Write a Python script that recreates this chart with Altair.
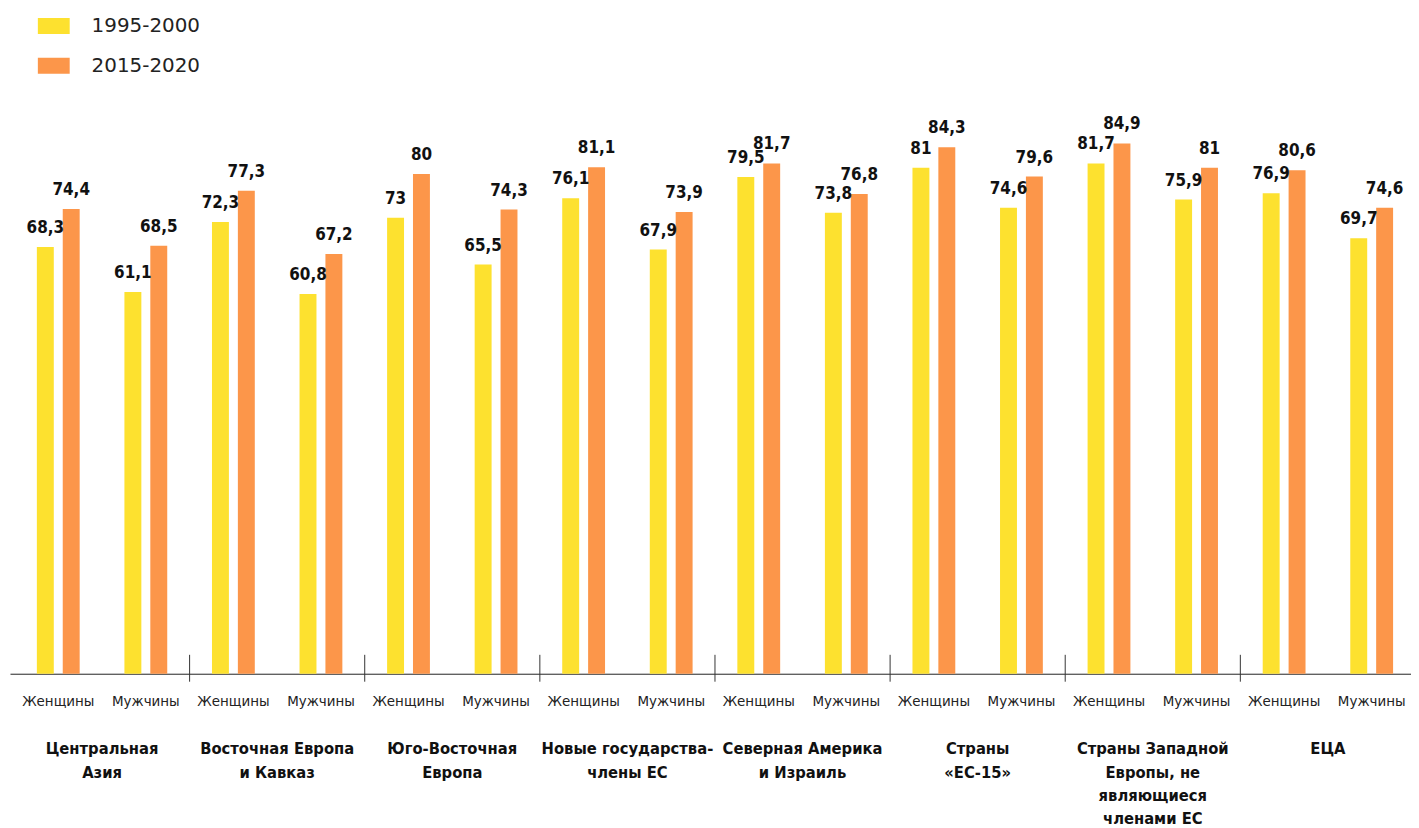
import altair as alt
import pandas as pd

groups = [
    "Центральная Азия", "Восточная Европа и Кавказ", "Юго-Восточная Европа",
    "Новые государства-члены ЕС", "Северная Америка и Израиль", "Страны «ЕС-15»",
    "Страны Западной Европы, не являющиеся членами ЕС", "ЕЦА",
]
group_lines = [
    ["Центральная", "Азия"],
    ["Восточная Европа", "и Кавказ"],
    ["Юго-Восточная", "Европа"],
    ["Новые государства-", "члены ЕС"],
    ["Северная Америка", "и Израиль"],
    ["Страны", "«ЕС-15»"],
    ["Страны Западной", "Европы, не", "являющиеся", "членами ЕС"],
    ["ЕЦА"],
]
sexes = ["Женщины", "Мужчины"]
periods = ["1995-2000", "2015-2020"]
women_1995 = [68.3, 72.3, 73, 76.1, 79.5, 81, 81.7, 76.9]
women_2015 = [74.4, 77.3, 80, 81.1, 81.7, 84.3, 84.9, 80.6]
men_1995 = [61.1, 60.8, 65.5, 67.9, 73.8, 74.6, 75.9, 69.7]
men_2015 = [68.5, 67.2, 74.3, 73.9, 76.8, 79.6, 81, 74.6]
colors = ["#FDE12F", "#FC964A"]

keys = [f"{gi}|{s}" for gi in range(len(groups)) for s in sexes]

rows = []
for gi in range(len(groups)):
    for s, vals in (("Женщины", (women_1995, women_2015)), ("Мужчины", (men_1995, men_2015))):
        for p, arr in zip(periods, vals):
            v = arr[gi]
            rows.append({
                "key": f"{gi}|{s}", "period": p, "value": v,
                "label": (f"{v:g}").replace(".", ","),
            })
df = pd.DataFrame(rows)

sep_df = pd.DataFrame({"key": [f"{gi}|Мужчины" for gi in range(len(groups) - 1)]})
grp_df = pd.DataFrame({"key": [f"{gi}|Женщины" for gi in range(len(groups))],
                       "lines": group_lines})

W, H = 1408, 565
STEP = 88
COND = "'DejaVu Sans Condensed', 'Liberation Sans Narrow', 'Roboto Condensed', sans-serif"
LIGHT = "'DejaVu Sans', 'Noto Sans', sans-serif"

xscale = alt.Scale(domain=keys, paddingInner=0.511, paddingOuter=0.2557, align=0.6)
xenc = alt.X("key:N", scale=xscale, sort=keys,
             axis=alt.Axis(title=None, labelExpr="split(datum.label, '|')[1]",
                           ticks=False, domainColor="#222222", domainWidth=1,
                           labelAngle=0, labelPadding=21, labelFont=LIGHT,
                           labelFontSize=13.5, labelColor="#222222",
                           labelFontWeight="normal"))
xoff = alt.XOffset("period:N", sort=periods,
                   scale=alt.Scale(paddingInner=0.346, paddingOuter=0))
yenc = alt.Y("value:Q", scale=alt.Scale(domain=[0, 90]), axis=None)

bars = alt.Chart(df).mark_bar().encode(
    x=xenc, xOffset=xoff, y=yenc,
    color=alt.Color("period:N", scale=alt.Scale(domain=periods, range=colors),
                    legend=alt.Legend(orient="none", legendX=28, legendY=-102,
                                      title=None,
                                      symbolType="M-1,-0.5H1V0.5H-1Z",
                                      symbolSize=1024, symbolStrokeWidth=0,
                                      symbolOpacity=1,
                                      labelFontSize=20, labelFont=LIGHT,
                                      labelFontWeight="normal",
                                      labelColor="#222222", labelOffset=22,
                                      rowPadding=14, padding=0)),
)

values = alt.Chart(df).mark_text(
    dy=-10, baseline="bottom", font=COND, fontWeight="bold", fontSize=17,
    color="#111111",
).encode(x=xenc, xOffset=xoff, y=yenc, text="label:N")

seps = alt.Chart(sep_df).mark_rule(color="#333333", strokeWidth=1, xOffset=STEP / 2).encode(
    x=alt.X("key:N", scale=xscale, sort=keys),
    y=alt.value(H - 19), y2=alt.value(H + 8),
)

glabels = alt.Chart(grp_df).mark_text(
    xOffset=STEP / 2, baseline="top", align="center", font=COND,
    fontWeight="bold", fontSize=16.5, lineHeight=23.5, color="#111111",
).encode(
    x=alt.X("key:N", scale=xscale, sort=keys),
    y=alt.value(H + 68),
    text="lines",
)

chart = alt.layer(bars, values, seps, glabels).properties(
    width=W, height=H,
    padding={"left": 2, "top": 0, "right": 0, "bottom": 0},
).configure_view(stroke=None)

chart.save("out.html", embed_options={"renderer": "svg", "actions": False})
